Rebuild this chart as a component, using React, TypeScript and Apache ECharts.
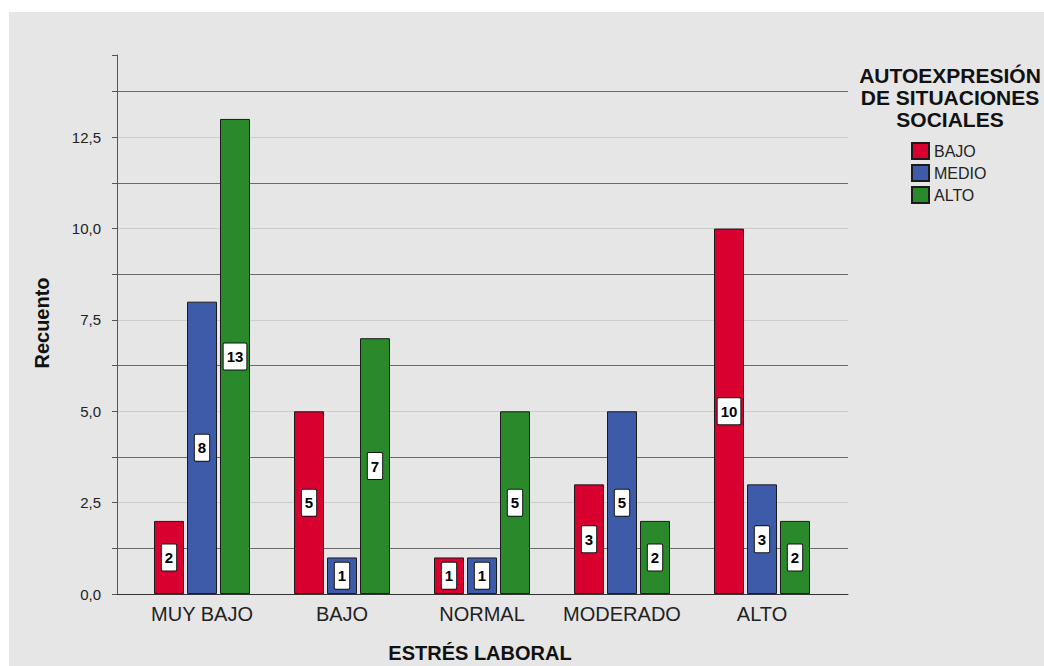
import React, { useEffect, useRef } from "react";
import * as echarts from "echarts";

const categories = ["MUY BAJO", "BAJO", "NORMAL", "MODERADO", "ALTO"];
const seriesNames = ["BAJO", "MEDIO", "ALTO"];
const bajoValues = [2, 5, 1, 3, 10];
const medioValues = [8, 1, 1, 5, 3];
const altoValues = [13, 7, 5, 2, 2];
const seriesColors = ["#d7002f", "#3e5ba9", "#2a8a2b"];
const yMax = 14.75;
const yInterval = 1.25;
const legendTitle = "AUTOEXPRESIÓN\nDE SITUACIONES\nSOCIALES";
const yTitle = "Recuento";
const xTitle = "ESTRÉS LABORAL";

const OX = 9;
const OY = 12;
const W = 1044 - OX;
const H = 666 - OY;

export default function App() {
  const ref = useRef<HTMLDivElement>(null);
  useEffect(() => {
    if (!ref.current) return;
    const chart = echarts.init(ref.current, undefined, { renderer: "svg" });
    const font = "'Liberation Sans', Arial, sans-serif";
    const light = "#cdcdcd";
    const dark = "#6a6a6a";
    const splitColors: string[] = [];
    for (let i = 0; i < 13; i++) splitColors.push(i === 12 ? "rgba(0,0,0,0)" : i % 2 === 0 ? light : dark);
    const labelStyle = {
      show: true,
      position: "inside",
      color: "#000",
      fontWeight: "bold",
      fontSize: 15,
      fontFamily: font,
      backgroundColor: "#fff",
      borderColor: "#111",
      borderWidth: 1,
      borderRadius: 1,
      padding: [6, 3, 5, 3],
    };
    const data = [bajoValues, medioValues, altoValues];
    const gridTop = 55 - OY;
    const gridBottom = H - (594 - OY);
    chart.setOption({
      animation: false,
      backgroundColor: "#e6e6e6",
      textStyle: { fontFamily: font },
      grid: [
        { left: 117 - OX, right: W - (848 - OX), top: gridTop, bottom: gridBottom },
        { left: 132 - OX, right: W - (832 - OX), top: gridTop, bottom: gridBottom },
      ],
      xAxis: [
        {
          gridIndex: 0,
          type: "value",
          min: 0,
          max: 1,
          axisLine: { show: true, lineStyle: { color: "#333", width: 1 } },
          axisTick: { show: false },
          axisLabel: { show: false },
          splitLine: { show: false },
        },
        {
          gridIndex: 1,
          type: "category",
          data: categories,
          axisLine: { show: false },
          axisTick: { show: false },
          axisLabel: { color: "#222", fontSize: 20, margin: 10, interval: 0, fontFamily: font },
        },
      ],
      yAxis: [
        {
          gridIndex: 0,
          type: "value",
          min: 0,
          max: yMax,
          interval: yInterval,
          axisLine: { show: true, lineStyle: { color: "#555", width: 1 } },
          axisTick: { show: true, length: 5, lineStyle: { color: "#555" } },
          axisLabel: {
            color: "#222",
            fontSize: 15,
            margin: 16,
            fontFamily: font,
            formatter: (v: number) =>
              Math.abs(v / 2.5 - Math.round(v / 2.5)) < 1e-6 && v <= 12.5
                ? v.toFixed(1).replace(".", ",")
                : "",
          },
          splitLine: { show: true, showMaxLine: false, lineStyle: { color: splitColors, width: 1 } },
        },
        { gridIndex: 1, type: "value", min: 0, max: yMax, show: false, splitLine: { show: false } },
      ],
      legend: {
        left: 911 - OX,
        top: 142 - OY,
        orient: "vertical",
        itemWidth: 17,
        itemHeight: 16,
        itemGap: 4,
        padding: 0,
        icon: "rect",
        textStyle: { fontSize: 16, color: "#222", fontFamily: font },
        data: seriesNames,
      },
      graphic: [
        {
          type: "text",
          x: 950 - OX,
          y: 64 - OY,
          style: {
            text: legendTitle,
            align: "center",
            verticalAlign: "top",
            fontSize: 21,
            lineHeight: 22,
            fontWeight: "bold",
            fontFamily: font,
            fill: "#111",
          },
        },
        {
          type: "text",
          x: 42 - OX,
          y: 323 - OY,
          rotation: Math.PI / 2,
          style: {
            text: yTitle,
            align: "center",
            verticalAlign: "middle",
            fontSize: 20,
            fontWeight: "bold",
            fontFamily: font,
            fill: "#111",
          },
        },
        {
          type: "text",
          x: 480 - OX,
          y: 653 - OY,
          style: {
            text: xTitle,
            align: "center",
            verticalAlign: "middle",
            fontSize: 20,
            fontWeight: "bold",
            fontFamily: font,
            fill: "#111",
          },
        },
      ],
      series: seriesNames.map((name, i) => ({
        name,
        type: "bar",
        xAxisIndex: 1,
        yAxisIndex: 1,
        data: data[i],
        barWidth: 30,
        barGap: "10%",
        itemStyle: { color: seriesColors[i], borderColor: "#1b1b1b", borderWidth: 1 },
        label: labelStyle,
      })),
    });
    return () => chart.dispose();
  }, []);
  return (
    <div style={{ position: "absolute", left: 0, top: 0, width: 1044, height: 666, background: "#fff", overflow: "hidden" }}>
      <div ref={ref} style={{ position: "absolute", left: OX, top: OY, width: W, height: H }} />
    </div>
  );
}
